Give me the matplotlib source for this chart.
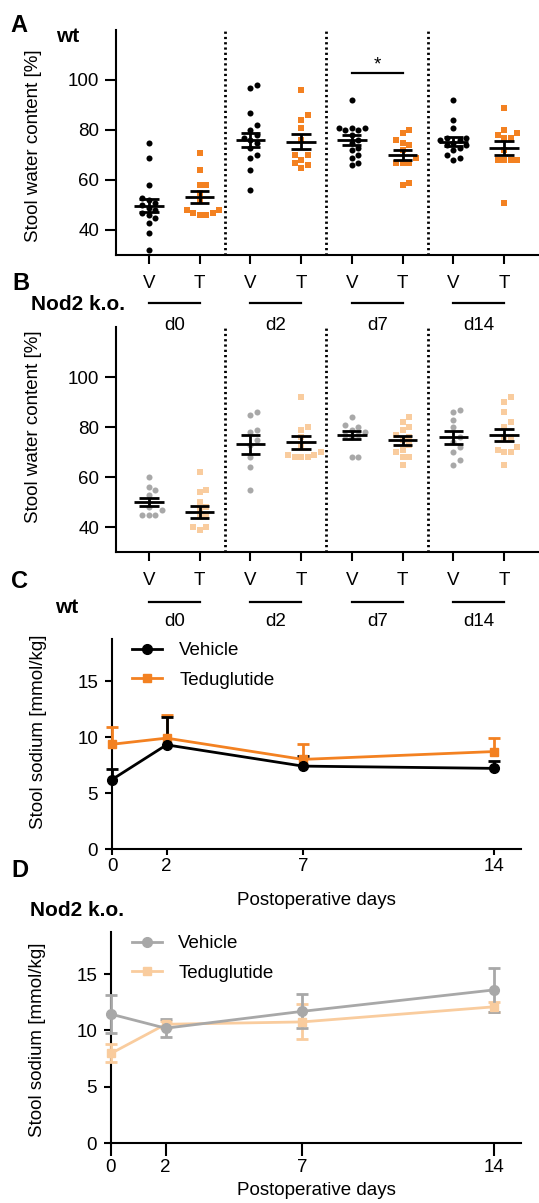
import matplotlib
matplotlib.use('Agg')
import matplotlib.pyplot as plt
import numpy as np
from matplotlib.transforms import blended_transform_factory
from matplotlib.lines import Line2D

plt.rcParams['font.family'] = ['Liberation Sans', 'DejaVu Sans']
plt.rcParams['font.size'] = 13.5

# ---------------- data ----------------
group_labels = ['d0', 'd2', 'd7', 'd14']
treat_ticks = ['V', 'T']

# Panel A: wt stool water content [%]
wt_V_d0 = [75, 69, 58, 53, 52, 51, 50, 49, 48, 47, 46, 45, 43, 39, 32]
wt_T_d0 = [71, 64, 58, 58, 55, 52, 48, 48, 47, 47, 46, 46]
wt_V_d2 = [98, 97, 87, 82, 80, 78, 77, 76, 75, 73, 70, 69, 64, 56]
wt_T_d2 = [96, 86, 84, 81, 76, 70, 70, 68, 67, 66, 65]
wt_V_d7 = [92, 81, 81, 81, 80, 80, 78, 76, 75, 73, 72, 70, 69, 67, 66]
wt_T_d7 = [80, 79, 76, 75, 74, 72, 69, 67, 67, 67, 59, 58]
wt_V_d14 = [92, 84, 81, 77, 77, 76, 76, 75, 74, 74, 73, 72, 70, 69, 68]
wt_T_d14 = [89, 80, 79, 78, 77, 77, 72, 68, 68, 68, 68, 51]
wt_mean = [49.7, 53.3, 76.0, 75.3, 76.0, 70.1, 75.3, 72.8]
wt_sem = [2.6, 2.3, 2.8, 3.0, 2.0, 2.1, 1.8, 2.8]

# Panel B: Nod2 k.o. stool water content [%]
ko_V_d0 = [60, 56, 55, 53, 48, 47, 45, 45, 45]
ko_T_d0 = [62, 55, 54, 50, 48, 47, 45, 44, 40, 40, 39]
ko_V_d2 = [86, 85, 79, 78, 75, 73, 68, 64, 55]
ko_T_d2 = [92, 80, 79, 76, 73, 70, 69, 69, 68, 68, 68]
ko_V_d7 = [84, 81, 80, 79, 78, 77, 77, 76, 68, 68]
ko_T_d7 = [84, 82, 80, 79, 77, 76, 75, 73, 71, 70, 68, 68, 65]
ko_V_d14 = [87, 86, 83, 80, 76, 74, 72, 70, 67, 65]
ko_T_d14 = [92, 90, 86, 82, 80, 76, 76, 72, 71, 70, 70, 65]
ko_mean = [50.1, 45.9, 73.1, 73.9, 76.9, 74.8, 75.9, 76.8]
ko_sem = [1.7, 2.4, 3.7, 2.5, 1.6, 1.8, 2.5, 2.3]

# Panels C/D: stool sodium [mmol/kg]
days = [0, 2, 7, 14]
wt_na_V = [6.2, 9.3, 7.4, 7.2]
wt_na_V_sem = [0.9, 2.5, 0.9, 0.7]
wt_na_T = [9.35, 9.9, 8.0, 8.7]
wt_na_T_sem = [1.55, 2.1, 1.4, 1.2]
ko_na_V = [11.45, 10.2, 11.7, 13.6]
ko_na_V_sem = [1.7, 0.8, 1.5, 1.95]
ko_na_T = [7.96, 10.55, 10.76, 12.1]
ko_na_T_sem = [0.8, 0.3, 1.55, 0.45]

# ---------------- styling ----------------
ORANGE = '#F38121'
LORANGE = '#F9CC9E'
GREY = '#A8A8A8'
BLACK = '#000000'
LW = 1.5

W, H = 539, 1203
fig = plt.figure(figsize=(W / 100, H / 100), dpi=100)


def axes_px(l, t, r, b):
    ax = fig.add_axes([l / W, 1 - b / H, (r - l) / W, (b - t) / H])
    ax.patch.set_visible(False)
    return ax


def fig_text(x, y, s, **kw):
    fig.text(x / W, 1 - y / H, s, **kw)


def swarm_x(ax, vals, center, d=6.5):
    p0 = ax.transData.transform((0, 0))
    p1 = ax.transData.transform((1, 1))
    ppx, ppy = p1[0] - p0[0], p1[1] - p0[1]
    vals = np.asarray(vals, float)
    order = np.argsort(vals)
    placed = []
    xs = np.zeros(len(vals))
    step = d * 0.5
    cands = [0.0]
    for j in range(1, 40):
        cands += [j * step, -j * step]
    for i in order:
        yp = vals[i] * ppy
        for c in cands:
            if all((c - px) ** 2 + (yp - py) ** 2 >= d * d for px, py in placed):
                break
        placed.append((c, yp))
        xs[i] = center + c / ppx
    return xs


def style_axes(ax):
    for s in ['top', 'right']:
        ax.spines[s].set_visible(False)
    for s in ['left', 'bottom']:
        ax.spines[s].set_linewidth(LW)


def scatter_panel(ax, groups, means, sems, cV, cT, group_y, text_y, ylab_y):
    ax.set_xlim(-0.65, 7.67)
    ax.set_ylim(30, 120)
    style_axes(ax)
    ax.set_yticks([40, 60, 80, 100])
    ax.set_xticks(range(8))
    ax.set_xticklabels(treat_ticks * 4)
    ax.tick_params(axis='y', length=8, width=LW, pad=4, labelsize=13.5)
    ax.tick_params(axis='x', length=6.5, width=LW, pad=8, labelsize=13.5)
    for k, vals in enumerate(groups):
        xs = swarm_x(ax, vals, k)
        if k % 2 == 0:
            ax.scatter(xs, vals, s=19, marker='o', color=cV, lw=0, zorder=3, clip_on=False)
        else:
            ax.scatter(xs, vals, s=24, marker='s', color=cT, lw=0, zorder=3, clip_on=False)
    pos = np.arange(8)
    m = np.array(means)
    e = np.array(sems)
    ax.hlines(m, pos - 0.29, pos + 0.29, color=BLACK, lw=2, zorder=5)
    ax.vlines(pos, m - e, m + e, color=BLACK, lw=2, zorder=5)
    ax.hlines(m - e, pos - 0.19, pos + 0.19, color=BLACK, lw=2, zorder=5)
    ax.hlines(m + e, pos - 0.19, pos + 0.19, color=BLACK, lw=2, zorder=5)
    for xv in [1.5, 3.5, 5.5]:
        ax.axvline(xv, color=BLACK, lw=2.0, ls=(0, (0.8, 1.1)), zorder=1)
    tr = blended_transform_factory(ax.transData, ax.transAxes)
    for g, lab in enumerate(group_labels):
        ax.plot([2 * g, 2 * g + 1], [group_y, group_y], color=BLACK, lw=1.6,
                transform=tr, clip_on=False)
        ax.text(2 * g + 0.5, text_y, lab, transform=tr, ha='center', va='center',
                fontsize=13.5)
    ax.set_ylabel('Stool water content [%]', fontsize=13.5)
    ax.yaxis.set_label_coords(-0.175, ylab_y)


# ---------------- Panel A ----------------
axA = axes_px(116, 30, 538, 255)
axA.set_xlim(-0.65, 7.67)
axA.set_ylim(30, 120)
scatter_panel(axA, [wt_V_d0, wt_T_d0, wt_V_d2, wt_T_d2, wt_V_d7, wt_T_d7, wt_V_d14, wt_T_d14],
              wt_mean, wt_sem, BLACK, ORANGE, -0.213, -0.315, 0.484)
axA.plot([4, 5], [103, 103], color=BLACK, lw=1.6)
axA.text(4.5, 106, '*', ha='center', va='center', fontsize=13.5)

# ---------------- Panel B ----------------
axB = axes_px(116, 327, 538, 552)
axB.set_xlim(-0.65, 7.67)
axB.set_ylim(30, 120)
scatter_panel(axB, [ko_V_d0, ko_T_d0, ko_V_d2, ko_T_d2, ko_V_d7, ko_T_d7, ko_V_d14, ko_T_d14],
              ko_mean, ko_sem, GREY, LORANGE, -0.222, -0.31, 0.556)


# ---------------- Panels C/D ----------------
def line_panel(ax, mV, eV, mT, eT, cV, cT, both, labelpad, ylab_y, xtick_len):
    ax.set_xlim(0, 15)
    ax.set_ylim(0, 18.75)
    style_axes(ax)
    ax.set_xticks(days)
    ax.set_yticks([0, 5, 10, 15])
    ax.tick_params(axis='y', length=5, width=LW, pad=5, labelsize=13.5)
    ax.tick_params(axis='x', length=xtick_len, width=LW, pad=2, labelsize=13.5)
    d = np.array(days, float)
    series = [(mT, eT, cT, 's', 6.2), (mV, eV, cV, 'o', 7)]
    for m, e, c, mk, ms in series:
        m = np.array(m)
        e = np.array(e)
        ax.plot(d, m, color=c, lw=2, marker=mk, ms=ms, zorder=4, clip_on=False)
        lo = m - e if both else m
        ax.vlines(d, lo, m + e, color=c, lw=2, zorder=3, clip_on=False)
        ax.plot(d, m + e, ls='none', marker='_', ms=8.5, mew=2, color=c, zorder=3, clip_on=False)
        if both:
            ax.plot(d, m - e, ls='none', marker='_', ms=8.5, mew=2, color=c, zorder=3, clip_on=False)
    handles = [Line2D([], [], color=cV, lw=2, marker='o', ms=7),
               Line2D([], [], color=cT, lw=2, marker='s', ms=6.2)]
    ax.legend(handles, ['Vehicle', 'Teduglutide'], loc='upper left',
              bbox_to_anchor=(0.05, 0.985), frameon=False, borderaxespad=0,
              borderpad=0, handlelength=1.6, handletextpad=0.9,
              labelspacing=0.66, fontsize=13.5)
    ax.set_xlabel('Postoperative days', fontsize=13.5, labelpad=labelpad)
    ax.set_ylabel('Stool sodium [mmol/kg]', fontsize=13.5)
    ax.yaxis.set_label_coords(-0.158, ylab_y)


axC = axes_px(112, 639, 521, 849)
line_panel(axC, wt_na_V, wt_na_V_sem, wt_na_T, wt_na_T_sem, BLACK, ORANGE, False, 12, 0.557, 4.5)

axD = axes_px(111, 932, 521, 1143)
line_panel(axD, ko_na_V, ko_na_V_sem, ko_na_T, ko_na_T_sem, GREY, LORANGE, True, 4, 0.49, 9.5)

# ---------------- panel letters and titles ----------------
fig_text(10, 32, 'A', fontsize=17, weight='bold', va='baseline')
fig_text(56, 42, 'wt', fontsize=15, weight='bold', va='baseline')
fig_text(12, 290, 'B', fontsize=17, weight='bold', va='baseline')
fig_text(31, 310, 'Nod2 k.o.', fontsize=15, weight='bold', va='baseline')
fig_text(11, 588, 'C', fontsize=17, weight='bold', va='baseline')
fig_text(55, 613, 'wt', fontsize=15, weight='bold', va='baseline')
fig_text(11, 877, 'D', fontsize=17, weight='bold', va='baseline')
fig_text(30, 916, 'Nod2 k.o.', fontsize=15, weight='bold', va='baseline')

fig.savefig('out.png', dpi=100)
